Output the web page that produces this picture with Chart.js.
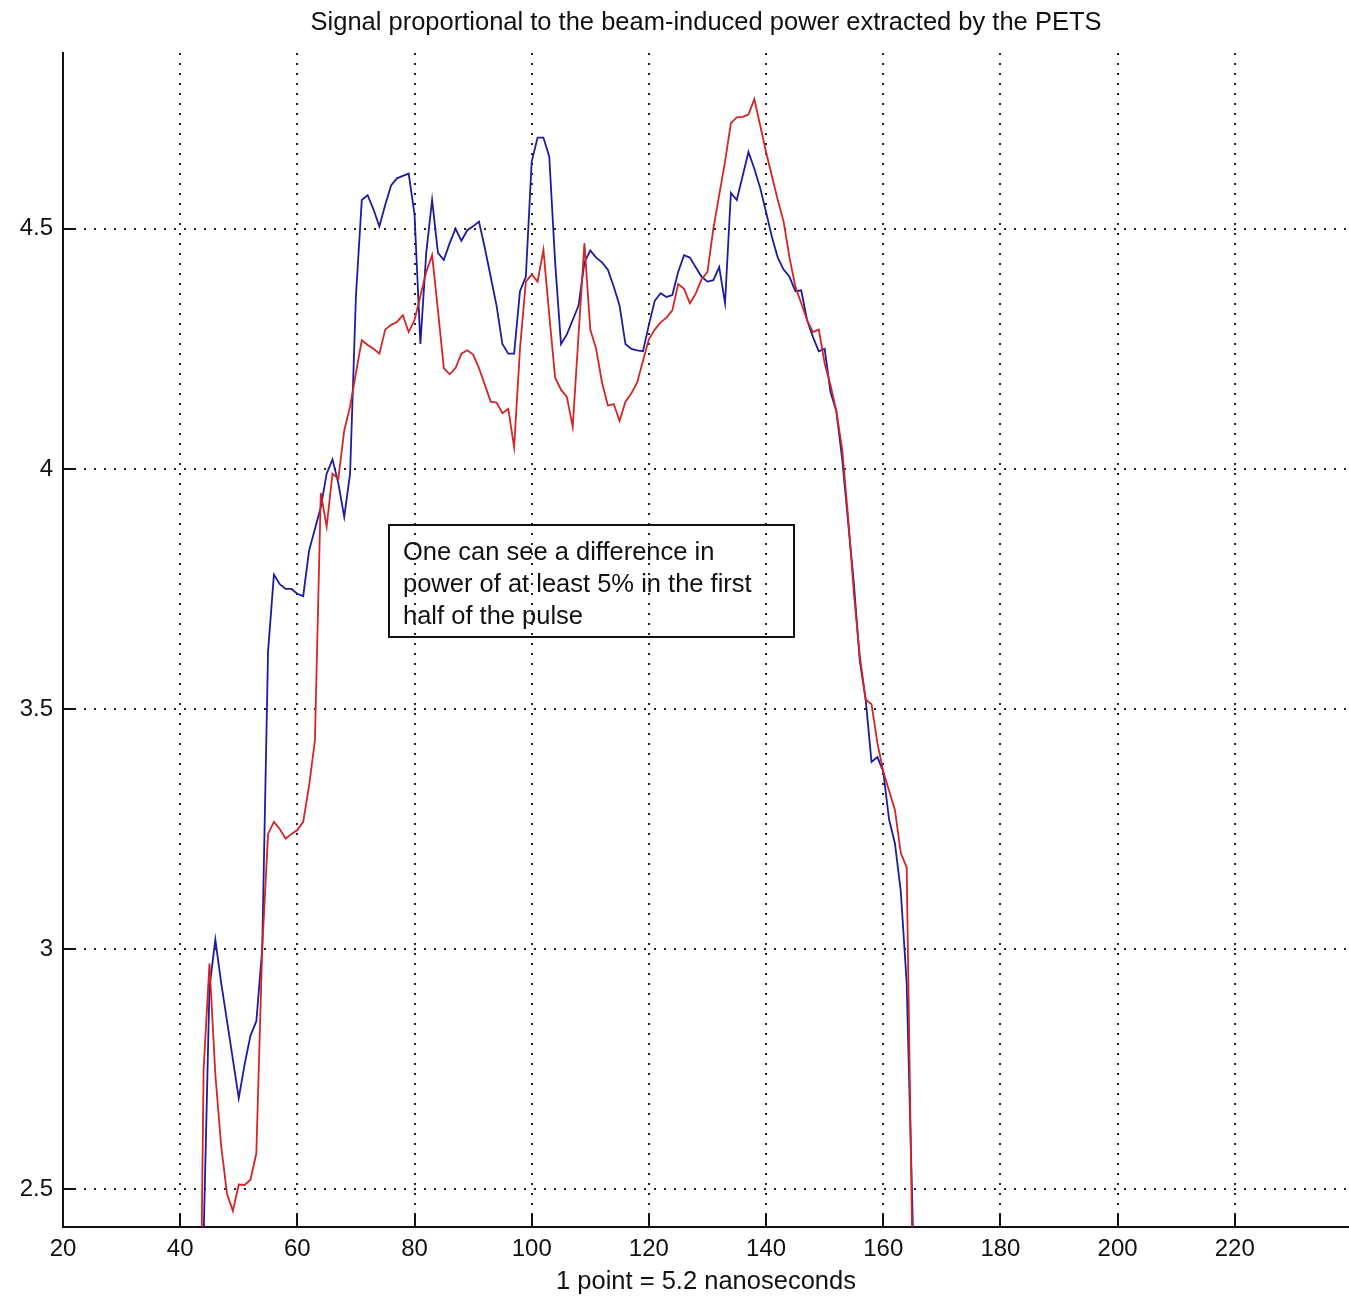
<!DOCTYPE html>
<html>
<head>
<meta charset="utf-8">
<title>PETS power signal</title>
<script src="https://cdn.jsdelivr.net/npm/chart.js@4/dist/chart.umd.min.js"></script>
<style>
  html, body { margin: 0; padding: 0; background: #ffffff; overflow: hidden; }
  canvas { display: block; }
</style>
</head>
<body>
<canvas id="chart" width="1349" height="1297"></canvas>
<script>
// Sample number along the pulse (1 point = 5.2 ns)
const sampleIndex = [
  43, 44, 45, 46, 47, 48, 49, 50, 51, 52, 53, 54, 55, 56, 57, 58, 59, 60, 61, 62,
  63, 64, 65, 66, 67, 68, 69, 70, 71, 72, 73, 74, 75, 76, 77, 78, 79, 80, 81, 82,
  83, 84, 85, 86, 87, 88, 89, 90, 91, 92, 93, 94, 95, 96, 97, 98, 99, 100, 101, 102,
  103, 104, 105, 106, 107, 108, 109, 110, 111, 112, 113, 114, 115, 116, 117, 118, 119, 120, 121, 122,
  123, 124, 125, 126, 127, 128, 129, 130, 131, 132, 133, 134, 135, 136, 137, 138, 139, 140, 141, 142,
  143, 144, 145, 146, 147, 148, 149, 150, 151, 152, 153, 154, 155, 156, 157, 158, 159, 160, 161, 162,
  163, 164, 165, 166
];

// Blue trace
const powerBlue = [
  1.90, 2.40, 2.92, 3.02, 2.93, 2.85, 2.77, 2.69, 2.76, 2.82, 2.85, 3.00, 3.62, 3.78, 3.76, 3.75, 3.75, 3.74, 3.735, 3.83,
  3.875, 3.92, 3.99, 4.02, 3.97, 3.90, 3.99, 4.36, 4.56, 4.57, 4.54, 4.505, 4.55, 4.59, 4.605, 4.61, 4.615, 4.53, 4.26, 4.45,
  4.56, 4.45, 4.435, 4.47, 4.50, 4.475, 4.497, 4.505, 4.515, 4.46, 4.40, 4.34, 4.26, 4.24, 4.24, 4.37, 4.40, 4.64, 4.69, 4.69,
  4.65, 4.43, 4.26, 4.28, 4.31, 4.34, 4.43, 4.455, 4.44, 4.43, 4.415, 4.38, 4.34, 4.26, 4.25, 4.247, 4.245, 4.30, 4.35, 4.366,
  4.358, 4.362, 4.41, 4.445, 4.44, 4.42, 4.40, 4.39, 4.393, 4.42, 4.345, 4.575, 4.56, 4.61, 4.66, 4.625, 4.585, 4.535, 4.483, 4.44,
  4.415, 4.40, 4.37, 4.372, 4.31, 4.275, 4.245, 4.25, 4.16, 4.12, 4.02, 3.89, 3.76, 3.60, 3.52, 3.39, 3.40, 3.37, 3.27, 3.22,
  3.12, 2.93, 2.45, 1.90
];

// Red trace
const powerRed = [
  1.70, 2.75, 2.97, 2.74, 2.59, 2.49, 2.455, 2.51, 2.509, 2.52, 2.575, 3.00, 3.24, 3.265, 3.25, 3.23, 3.24, 3.248, 3.265, 3.34,
  3.435, 3.95, 3.88, 3.99, 3.98, 4.08, 4.13, 4.20, 4.268, 4.258, 4.25, 4.24, 4.29, 4.30, 4.306, 4.32, 4.285, 4.31, 4.36, 4.41,
  4.445, 4.33, 4.21, 4.197, 4.21, 4.24, 4.247, 4.238, 4.21, 4.175, 4.14, 4.138, 4.116, 4.125, 4.045, 4.25, 4.39, 4.405, 4.39, 4.456,
  4.32, 4.19, 4.165, 4.15, 4.088, 4.28, 4.47, 4.29, 4.25, 4.18, 4.132, 4.135, 4.10, 4.14, 4.157, 4.18, 4.225, 4.27, 4.29, 4.305,
  4.315, 4.33, 4.385, 4.375, 4.345, 4.365, 4.395, 4.41, 4.50, 4.57, 4.64, 4.72, 4.732, 4.733, 4.738, 4.77, 4.715, 4.66, 4.61, 4.56,
  4.515, 4.44, 4.38, 4.345, 4.31, 4.285, 4.29, 4.22, 4.175, 4.12, 4.04, 3.90, 3.74, 3.61, 3.52, 3.51, 3.43, 3.37, 3.33, 3.29,
  3.20, 3.17, 2.35, 1.80
];

const xTickValues = [20, 40, 60, 80, 100, 120, 140, 160, 180, 200, 220];
const yTickValues = [2.5, 3, 3.5, 4, 4.5];

const chartTitle = 'Signal proportional to the beam-induced power extracted by the PETS';
const xAxisTitle = '1 point = 5.2 nanoseconds';
const noteLines = [
  'One can see a difference in',
  'power of at least 5% in the first',
  'half of the pulse'
];

const FONT = '"Liberation Sans", Arial, Helvetica, sans-serif';

// Text box placed in data units (left/right sample, top/bottom value)
const noteBox = { x0: 75.7, x1: 144.8, y0: 3.883, y1: 3.650 };

const toPoints = vals => sampleIndex.map((s, i) => ({ x: s, y: vals[i] }));

// Tick marks pointing into the plot area
const inwardTicks = {
  id: 'inwardTicks',
  afterDraw(chart) {
    const { ctx, chartArea: a, scales: { x, y } } = chart;
    ctx.save();
    ctx.strokeStyle = '#111';
    ctx.lineWidth = 2;
    ctx.beginPath();
    xTickValues.forEach(v => {
      const px = Math.round(x.getPixelForValue(v));
      if (px <= a.left + 2) return;
      ctx.moveTo(px, a.bottom);
      ctx.lineTo(px, a.bottom - 13);
    });
    yTickValues.forEach(v => {
      const py = Math.round(y.getPixelForValue(v));
      ctx.moveTo(a.left, py);
      ctx.lineTo(a.left + 13, py);
    });
    ctx.stroke();
    ctx.restore();
  }
};

// Framed comment inside the axes
const noteText = {
  id: 'noteText',
  afterDraw(chart) {
    const { ctx, scales: { x, y } } = chart;
    const left = Math.round(x.getPixelForValue(noteBox.x0));
    const right = Math.round(x.getPixelForValue(noteBox.x1));
    const top = Math.round(y.getPixelForValue(noteBox.y0));
    const bottom = Math.round(y.getPixelForValue(noteBox.y1));
    ctx.save();
    ctx.strokeStyle = '#111';
    ctx.lineWidth = 2;
    ctx.strokeRect(left, top, right - left, bottom - top);
    ctx.fillStyle = '#111';
    ctx.font = '25.5px ' + FONT;
    ctx.textAlign = 'left';
    ctx.textBaseline = 'middle';
    noteLines.forEach((line, i) => {
      ctx.fillText(line, left + 14, top + 28 + i * 31.8);
    });
    ctx.restore();
  }
};

new Chart(document.getElementById('chart'), {
  type: 'line',
  data: {
    datasets: [
      {
        label: 'Red',
        data: toPoints(powerRed),
        borderColor: '#d42424',
        borderWidth: 1.8,
        pointRadius: 0,
        tension: 0,
        fill: false,
        order: 0
      },
      {
        label: 'Blue',
        data: toPoints(powerBlue),
        borderColor: '#1c1ca0',
        borderWidth: 1.8,
        pointRadius: 0,
        tension: 0,
        fill: false,
        order: 1
      }
    ]
  },
  options: {
    responsive: false,
    animation: false,
    devicePixelRatio: 1,
    layout: { padding: 0 },
    plugins: {
      legend: { display: false },
      tooltip: { enabled: false },
      title: {
        display: true,
        text: chartTitle,
        fullSize: false,
        color: '#111',
        font: { family: FONT, size: 25.5, weight: 'normal', lineHeight: 1.2 },
        padding: { top: 8, bottom: 14.4 }
      }
    },
    scales: {
      x: {
        type: 'linear',
        min: 20,
        max: 239.5,
        afterFit(scale) { scale.height = 70; },
        afterBuildTicks(scale) { scale.ticks = xTickValues.map(v => ({ value: v })); },
        grid: { color: '#222', lineWidth: 2, drawTicks: false },
        border: { display: true, color: '#111', width: 2, dash: [2, 8] },
        ticks: {
          color: '#111',
          padding: 8,
          maxRotation: 0,
          autoSkip: false,
          font: { family: FONT, size: 24 },
          callback: v => String(v)
        },
        title: {
          display: true,
          text: xAxisTitle,
          color: '#111',
          font: { family: FONT, size: 25.5, lineHeight: 1.2 },
          padding: { top: 0, bottom: 0 }
        }
      },
      y: {
        type: 'linear',
        min: 2.4215,
        max: 4.866,
        afterFit(scale) { scale.width = 63; },
        afterBuildTicks(scale) { scale.ticks = yTickValues.map(v => ({ value: v })); },
        grid: { color: '#222', lineWidth: 2, drawTicks: false },
        border: { display: true, color: '#111', width: 2, dash: [2, 8] },
        ticks: {
          color: '#111',
          padding: 10,
          autoSkip: false,
          font: { family: FONT, size: 24 },
          callback: v => String(v)
        }
      }
    }
  },
  plugins: [inwardTicks, noteText]
});
</script>
</body>
</html>
